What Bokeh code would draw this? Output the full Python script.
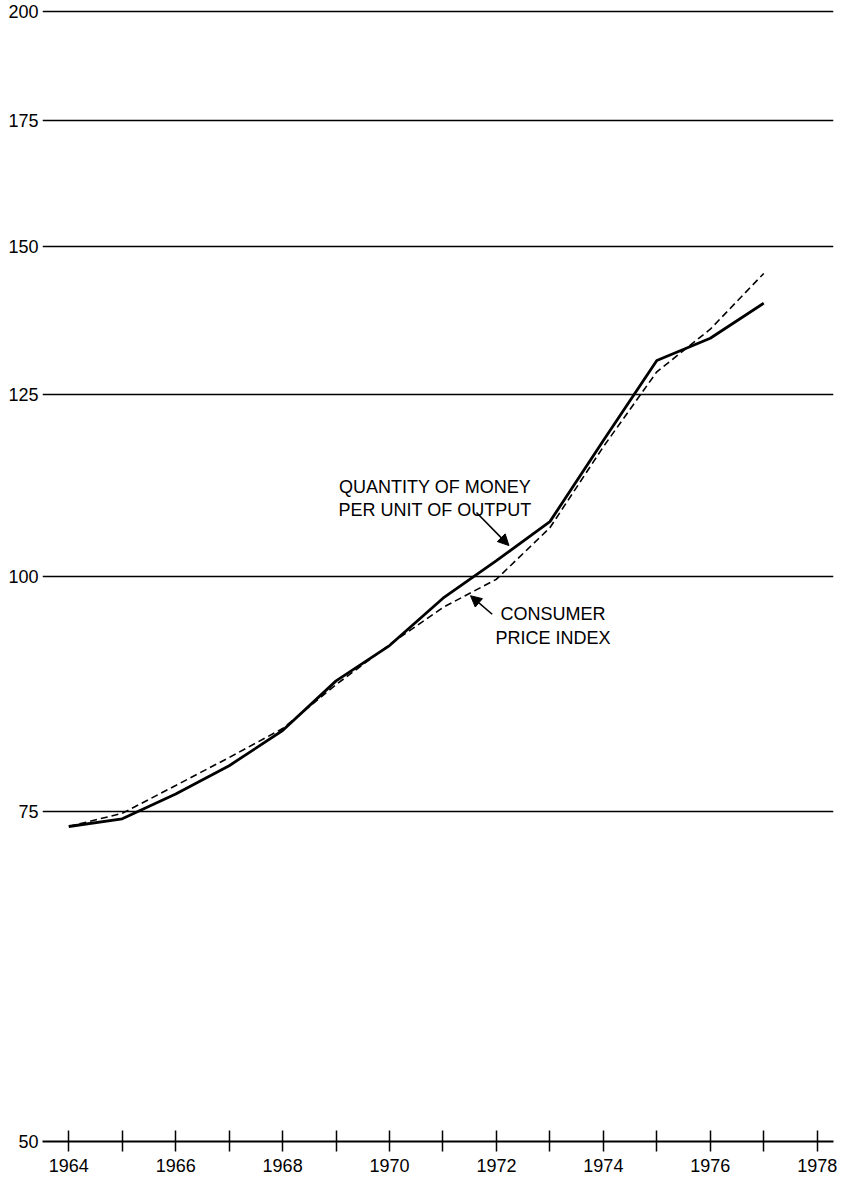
from bokeh.plotting import figure
from bokeh.models import (Range1d, FixedTicker, NumeralTickFormatter, Label,
                          Arrow, NormalHead)
from bokeh.embed import file_html
from bokeh.resources import INLINE

# ---- data ----
years = [1964, 1965, 1966, 1967, 1968, 1969, 1970, 1971, 1972, 1973, 1974, 1975, 1976, 1977]
money_per_output = [73.6, 74.3, 76.6, 79.3, 82.8, 88.0, 91.9, 97.4, 102.0, 107.0, 118.2, 130.4, 134.0, 139.9]
consumer_prices = [73.6, 74.8, 77.4, 80.1, 83.0, 87.6, 92.0, 96.3, 99.7, 106.2, 117.3, 128.6, 135.5, 145.1]

x_ticks = list(range(1964, 1979))
x_tick_labels = {y: (str(y) if y % 2 == 0 else "") for y in x_ticks}
y_ticks = [50, 75, 100, 125, 150, 175, 200]

FONT = "Liberation Sans"

p = figure(width=842, height=1179,
           x_range=Range1d(1963.508, 1978.305),
           y_range=Range1d(50, 200.61),
           y_axis_type="log",
           output_backend="svg", toolbar_location=None,
           min_border_left=42, min_border_right=9, min_border_top=9,
           min_border_bottom=38)
p.outline_line_color = None
p.background_fill_color = "white"
p.border_fill_color = "white"

# x axis
xa = p.xaxis[0]
xa.ticker = FixedTicker(ticks=x_ticks)
xa.major_label_overrides = x_tick_labels
xa.axis_line_width = 2
xa.axis_line_color = "black"
xa.major_tick_in = 11
xa.major_tick_out = 10
xa.major_tick_line_width = 1.5
xa.major_tick_line_color = "black"
xa.minor_tick_line_color = None
xa.major_label_standoff = 7
xa.major_label_text_font = FONT
xa.major_label_text_font_size = "18px"
xa.major_label_text_color = "black"

# y axis
ya = p.yaxis[0]
ya.ticker = FixedTicker(ticks=y_ticks)
ya.formatter = NumeralTickFormatter(format="0")
ya.axis_line_color = None
ya.major_tick_line_color = None
ya.minor_tick_line_color = None
ya.major_tick_out = 0
ya.major_tick_in = 0
ya.major_label_standoff = 4
ya.major_label_text_font = FONT
ya.major_label_text_font_size = "18px"
ya.major_label_text_color = "black"

p.xgrid.grid_line_color = None
p.ygrid.ticker = FixedTicker(ticks=y_ticks[1:])
p.ygrid.grid_line_color = "black"
p.ygrid.grid_line_width = 1.6
p.ygrid.grid_line_alpha = 1.0

# series
p.line(years, consumer_prices, line_color="black", line_width=1.6, line_dash="7 4")
p.line(years, money_per_output, line_color="black", line_width=2.8)

# annotations
def add_label(x, y, txt):
    p.add_layout(Label(x=x, y=y, text=txt, text_font=FONT, text_font_size="18px",
                       text_align="center", text_baseline="alphabetic",
                       text_color="black"))

add_label(1970.85, 111.6, "QUANTITY OF MONEY")
add_label(1970.85, 108.6, "PER UNIT OF OUTPUT")
add_label(1973.06, 95.5, "CONSUMER")
add_label(1973.06, 92.8, "PRICE INDEX")

p.add_layout(Arrow(end=NormalHead(size=11, fill_color="black", line_color="black"),
                   x_start=1971.626, y_start=108.2, x_end=1972.234, y_end=103.9,
                   line_width=1.6, line_color="black"))
p.add_layout(Arrow(end=NormalHead(size=11, fill_color="black", line_color="black"),
                   x_start=1971.92, y_start=95.5, x_end=1971.514, y_end=97.7,
                   line_width=1.6, line_color="black"))

open("out.html", "w").write(file_html(p, INLINE))
